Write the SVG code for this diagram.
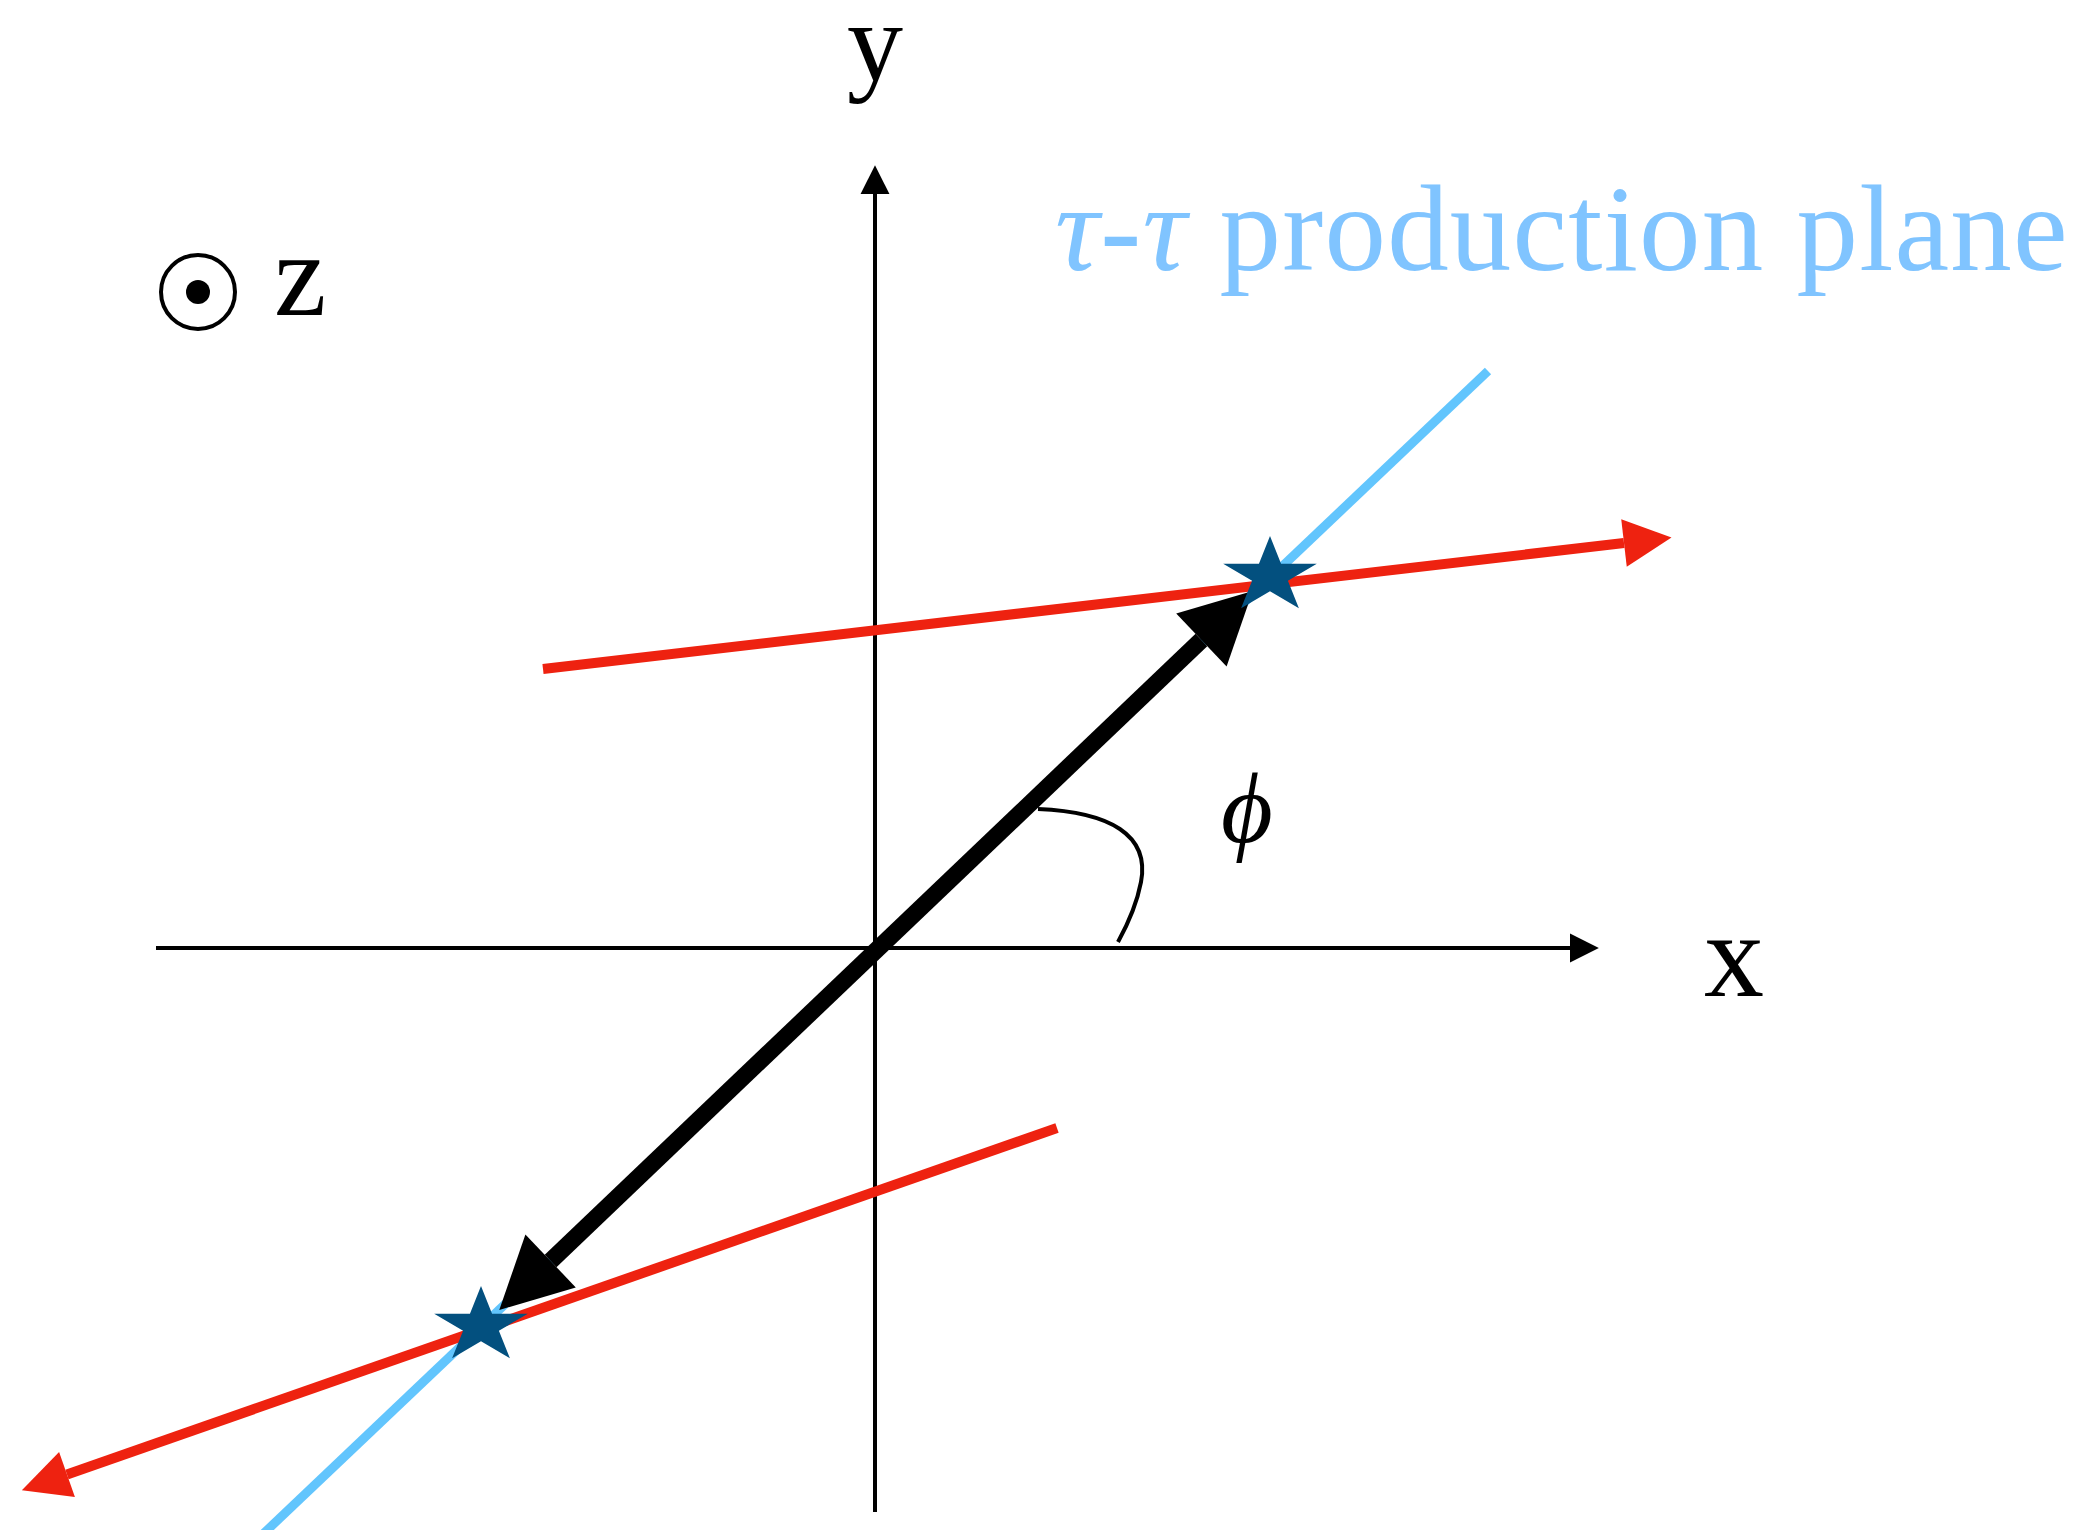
<svg xmlns="http://www.w3.org/2000/svg" width="2076" height="1530" viewBox="0 0 2076 1530">
<style>
.axis{stroke:#000;stroke-width:4;fill:none}
.red{stroke:#ee2210;stroke-width:10;fill:none}
.blue{stroke:#62c5fd;stroke-width:9;fill:none}
.lbl{font-family:"Liberation Serif","DejaVu Serif",serif;fill:#000}
.star{fill:#03507f}
</style>
<defs>
<marker id="axHead" markerUnits="userSpaceOnUse" markerWidth="30" markerHeight="30" viewBox="0 -13 26 26" refX="0" refY="0" orient="auto"><path d="M0,-12.5 L25,0 L0,12.5 Z" fill="#000"/></marker>
<marker id="redHead" markerUnits="userSpaceOnUse" markerWidth="50" markerHeight="50" viewBox="0 -23 45 46" refX="0" refY="0" orient="auto"><path d="M0,-22 L44,0 L0,22 Z" fill="#ee2210"/></marker>
<marker id="blkHead" markerUnits="userSpaceOnUse" markerWidth="75" markerHeight="75" viewBox="0 -37 71 74" refX="0" refY="0" orient="auto-start-reverse"><path d="M0,-36 L70,0 L0,36 Z" fill="#000"/></marker>
<path id="starShape" d="M0,-40 L11.05,-12.36 L46.8,-12.36 L17.9,4.72 L28.9,32.36 L0,15.28 L-28.9,32.36 L-17.9,4.72 L-46.8,-12.36 L-11.05,-12.36 Z"/>
</defs>
<g id="axes">
<line id="y-axis" class="axis" x1="875" y1="1512" x2="875" y2="194" marker-end="url(#axHead)"/>
<line id="x-axis" class="axis" x1="156" y1="948" x2="1570" y2="948" marker-end="url(#axHead)"/>
</g>
<g id="connectors">
<line id="plane-line" class="blue" x1="1488" y1="371" x2="262" y2="1535"/>
<line id="tau-axis" stroke="#000" stroke-width="17" x1="550.6" y1="1261" x2="1201.4" y2="640" marker-start="url(#blkHead)" marker-end="url(#blkHead)"/>
<line id="upper-track" class="red" x1="543" y1="669" x2="1624" y2="543" marker-end="url(#redHead)"/>
<line id="lower-track" class="red" x1="1057" y1="1128" x2="67" y2="1474.5" marker-end="url(#redHead)"/>
<path id="phi-arc" class="axis" d="M1038,809 C1110,812 1150,835 1141,882 C1137,903 1129,922 1118,942"/>
</g>
<g id="tau-plus"><use href="#starShape" class="star" x="1270" y="576"/></g>
<g id="tau-minus"><use href="#starShape" class="star" x="481" y="1326"/></g>
<g id="labels">
<text class="lbl" x="875" y="80" font-size="112" text-anchor="middle">y</text>
<text class="lbl" x="1734" y="996" font-size="120" text-anchor="middle">x</text>
<text class="lbl" x="274" y="315" font-size="118">z</text>
<text class="lbl" x="1247" y="842" font-size="100" font-style="italic" text-anchor="middle">ϕ</text>
<text class="lbl" x="1055" y="270" font-size="123" letter-spacing="1.2" style="fill:#80c4ff"><tspan font-style="italic">τ</tspan>-<tspan font-style="italic">τ</tspan> production plane</text>
</g>
<g id="z-symbol">
<circle cx="198" cy="292" r="37" fill="none" stroke="#000" stroke-width="4"/>
<circle cx="198" cy="292" r="12" fill="#000"/>
</g>
</svg>
